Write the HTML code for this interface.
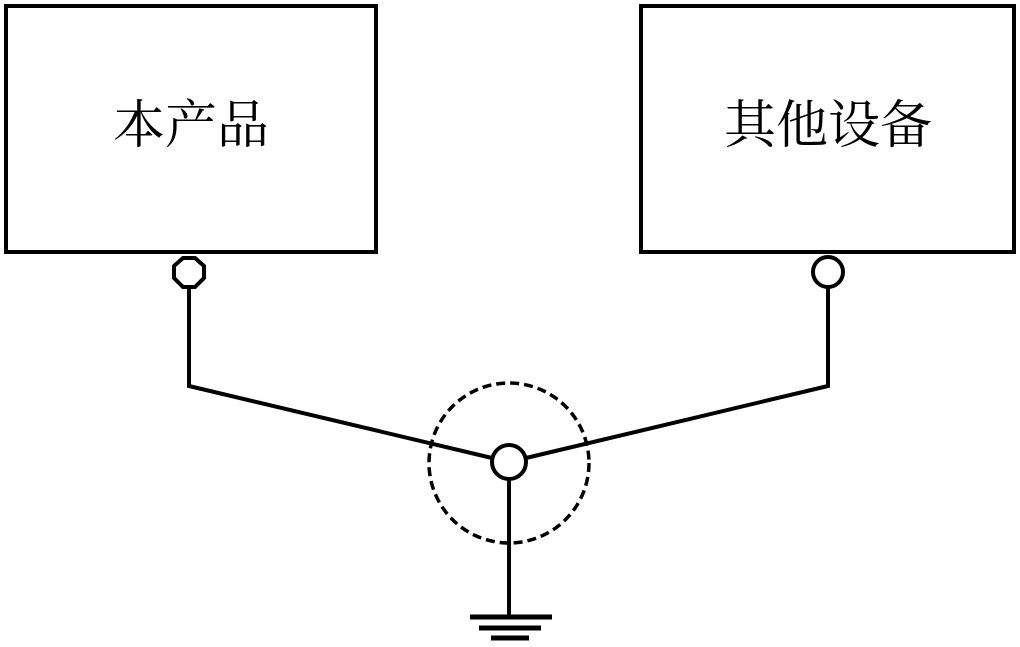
<!DOCTYPE html>
<html><head><meta charset="utf-8"><style>
html,body{margin:0;padding:0;background:#fff;}
</style></head><body>
<svg width="1020" height="642" viewBox="0 0 1020 642" xmlns="http://www.w3.org/2000/svg">
<g fill="none" stroke="#000" stroke-width="4">
<rect x="6" y="6" width="370" height="246"/>
<rect x="641" y="6" width="373" height="246"/>
<polygon points="183,258 195,258 204,266 204,278 195,287 183,287 174,278 174,266" fill="#fff"/>
<circle cx="828" cy="272" r="15" fill="#fff"/>
<polyline points="189,287 189,386 492,458"/>
<polyline points="828,287 828,386 526,458"/>
<circle cx="509" cy="463" r="80" stroke-width="3.5" stroke-dasharray="9,5"/>
<circle cx="509" cy="462" r="17" fill="#fff"/>
<line x1="509" y1="479" x2="509" y2="617"/>
<line x1="470" y1="617" x2="552" y2="617" stroke-width="5"/>
<line x1="479" y1="628" x2="541" y2="628" stroke-width="5"/>
<line x1="491" y1="638" x2="529" y2="638" stroke-width="5"/>
</g>
<g font-family="'Liberation Serif','Noto Serif CJK SC',serif" font-size="52" text-anchor="middle" fill="#000">
<text x="191" y="143">本产品</text>
<text x="828" y="143">其他设备</text>
</g>
</svg>
</body></html>
